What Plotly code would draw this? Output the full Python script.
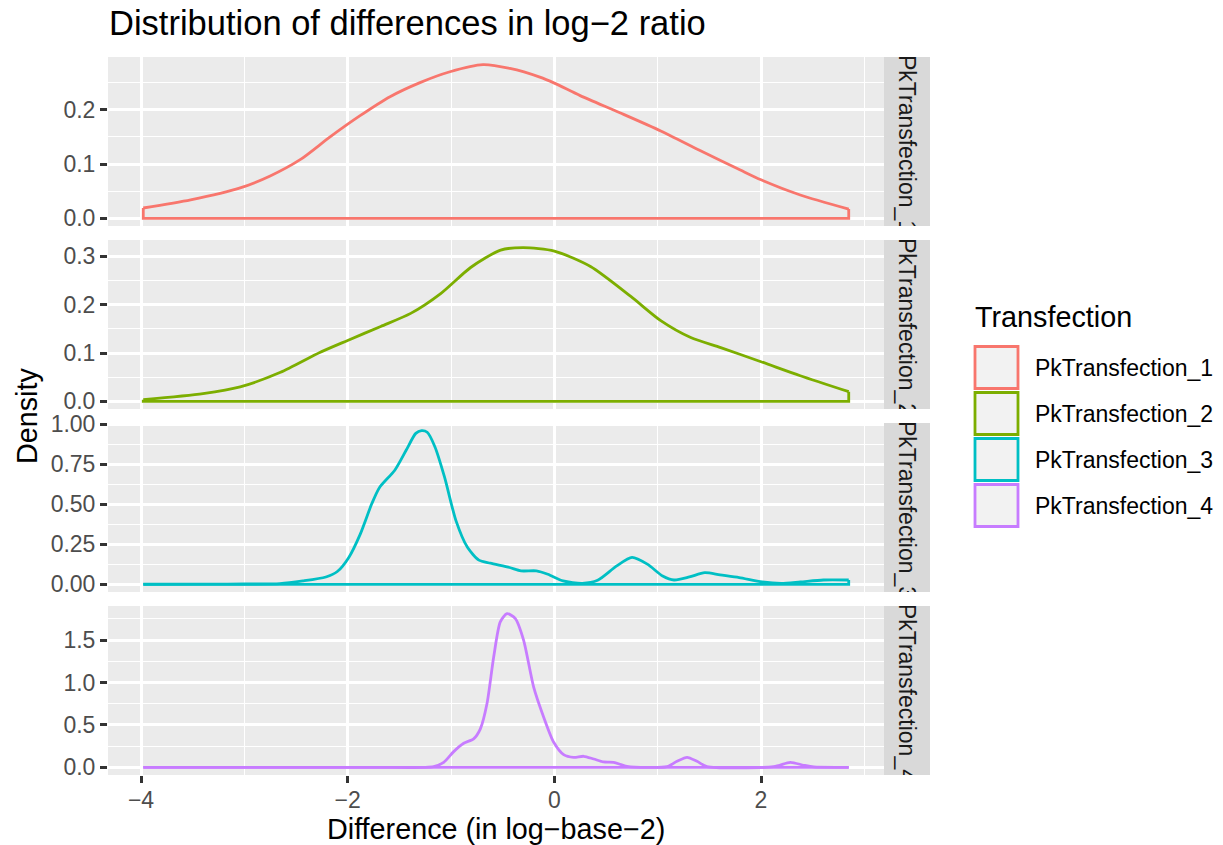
import plotly.graph_objects as go

# ---------------- data ----------------
names = ["PkTransfection_1", "PkTransfection_2", "PkTransfection_3", "PkTransfection_4"]
colors = ["#F8766D", "#7CAE00", "#00BFC4", "#C77CFF"]

x_pk1 = [-3.978, -3.52, -3.04, -2.75, -2.46, -2.17, -1.88, -1.59, -1.30, -1.01, -0.69,
         -0.43, -0.14, 0.0, 0.25, 0.64, 1.03, 1.41, 1.80, 2.0, 2.38, 2.849]
y_pk1 = [0.019, 0.034, 0.056, 0.078, 0.108, 0.150, 0.189, 0.224, 0.250, 0.270, 0.283,
         0.276, 0.260, 0.249, 0.226, 0.194, 0.161, 0.125, 0.089, 0.071, 0.043, 0.017]

x_pk2 = [-3.978, -3.40, -3.04, -2.65, -2.27, -2.0, -1.68, -1.39, -1.10, -0.81, -0.52,
         -0.30, 0.0, 0.35, 0.74, 1.03, 1.32, 1.61, 2.0, 2.38, 2.849]
y_pk2 = [0.0035, 0.016, 0.030, 0.060, 0.101, 0.126, 0.155, 0.182, 0.223, 0.277, 0.313,
         0.318, 0.311, 0.279, 0.217, 0.167, 0.132, 0.111, 0.082, 0.053, 0.020]

x_pk3 = [-3.978, -3.3, -3.0, -2.656, -2.433, -2.211, -2.100, -1.989, -1.878, -1.767, -1.693,
         -1.544, -1.433, -1.341, -1.285, -1.230, -1.156, -1.063, -0.952, -0.841, -0.730,
         -0.619, -0.433, -0.322, -0.174, -0.063, 0.085, 0.270, 0.419, 0.604, 0.752, 0.900,
         1.048, 1.159, 1.307, 1.456, 1.604, 1.789, 2.011, 2.196, 2.381, 2.604, 2.849]
y_pk3 = [0.0005, 0.001, 0.002, 0.004, 0.021, 0.046, 0.080, 0.168, 0.314, 0.503, 0.604,
         0.713, 0.839, 0.943, 0.960, 0.950, 0.860, 0.671, 0.398, 0.231, 0.151,
         0.132, 0.105, 0.084, 0.084, 0.063, 0.021, 0.006, 0.025, 0.115, 0.168, 0.126,
         0.052, 0.027, 0.046, 0.073, 0.059, 0.042, 0.015, 0.006, 0.015, 0.027, 0.027]

x_pk4 = [-3.978, -2.0, -1.68, -1.168, -1.071, -0.974, -0.877, -0.781, -0.716, -0.652, -0.587,
         -0.523, -0.458, -0.377, -0.297, -0.200, -0.103, -0.006, 0.090, 0.187, 0.284, 0.381,
         0.477, 0.574, 0.703, 1.090, 1.187, 1.284, 1.381, 1.477, 2.123, 2.284, 2.413, 2.510,
         2.849]
y_pk4 = [0.0, 0.0, 0.0, 0.008, 0.059, 0.185, 0.283, 0.335, 0.453, 0.748, 1.299,
         1.713, 1.810, 1.752, 1.496, 0.945, 0.591, 0.295, 0.150, 0.118, 0.130, 0.098,
         0.063, 0.059, 0.012, 0.008, 0.071, 0.118, 0.071, 0.008, 0.008, 0.059, 0.024, 0.004,
         0.0]

xs = [x_pk1, x_pk2, x_pk3, x_pk4]
ys = [y_pk1, y_pk2, y_pk3, y_pk4]

x_tick_vals = [-4, -2, 0, 2]
x_tick_text = ["\u22124", "\u22122", "0", "2"]
x_minor_vals = [-5, -3, -1, 1, 3]
y_tick_vals = [[0, 0.1, 0.2], [0, 0.1, 0.2, 0.3], [0, 0.25, 0.5, 0.75, 1.0], [0, 0.5, 1.0, 1.5]]
y_tick_text = [["0.0", "0.1", "0.2"], ["0.0", "0.1", "0.2", "0.3"],
               ["0.00", "0.25", "0.50", "0.75", "1.00"], ["0.0", "0.5", "1.0", "1.5"]]
y_minor_vals = [[0.05, 0.15, 0.25], [0.05, 0.15, 0.25],
                [0.125, 0.375, 0.625, 0.875], [0.25, 0.75, 1.25, 1.75]]

title_text = "Distribution of differences in log\u22122 ratio"
x_title = "Difference (in log\u2212base\u22122)"
y_title = "Density"
legend_title = "Transfection"

# ---------------- layout geometry (pixels) ----------------
W, H = 1223, 845
L, R, T, B = 108, 930, 57, 775
PANEL_RIGHT = 884
panel_tops = [57, 240, 423, 606]
PANEL_H = 169
FONT = "Liberation Sans, Arial, Helvetica, sans-serif"
LW = 2.8


def fx(p):
    return (p - L) / (R - L)


def fy(p):
    return (B - p) / (B - T)


fig = go.Figure()

xmin = min(min(x) for x in xs)
xmax = max(max(x) for x in xs)
span = xmax - xmin
xr = [xmin - 0.05 * span, xmax + 0.05 * span]

layout = {}
for i in range(4):
    n = i + 1
    xa = "x" if n == 1 else f"x{n}"
    ya = "y" if n == 1 else f"y{n}"
    xk = "xaxis" if n == 1 else f"xaxis{n}"
    yk = "yaxis" if n == 1 else f"yaxis{n}"
    # density curve
    fig.add_trace(go.Scatter(
        x=xs[i], y=ys[i], mode="lines",
        line=dict(color=colors[i], width=LW, shape="spline", smoothing=0.7),
        xaxis=xa, yaxis=ya, showlegend=False, hoverinfo="skip"))
    # closing outline (ends + baseline)
    fig.add_trace(go.Scatter(
        x=[xs[i][-1], xs[i][-1], xs[i][0], xs[i][0]],
        y=[ys[i][-1], 0, 0, ys[i][0]], mode="lines",
        line=dict(color=colors[i], width=LW),
        xaxis=xa, yaxis=ya, showlegend=False, hoverinfo="skip"))

    ymax = max(ys[i])
    yr = [-0.05 * ymax, 1.05 * ymax]
    top = panel_tops[i]
    bot = top + PANEL_H
    dom_y = [fy(bot), fy(top)]
    bottom_panel = (n == 4)
    layout[xk] = dict(
        domain=[0, fx(PANEL_RIGHT)], range=xr, anchor=ya,
        tickmode="array", tickvals=x_tick_vals, ticktext=x_tick_text,
        showticklabels=bottom_panel, ticks="outside" if bottom_panel else "",
        ticklen=7, tickwidth=LW, tickcolor="#333333",
        tickfont=dict(size=23, color="#4D4D4D", family=FONT),
        showgrid=True, gridcolor="white", gridwidth=LW,
        minor=dict(tickvals=x_minor_vals, showgrid=True, gridcolor="white",
                   gridwidth=1.4, ticks=""),
        zeroline=False, showline=False, fixedrange=True)
    layout[yk] = dict(
        domain=dom_y, range=yr, anchor=xa,
        tickmode="array", tickvals=y_tick_vals[i], ticktext=y_tick_text[i],
        ticks="outside", ticklen=7, tickwidth=LW, tickcolor="#333333",
        tickfont=dict(size=23, color="#4D4D4D", family=FONT),
        showgrid=True, gridcolor="white", gridwidth=LW,
        minor=dict(tickvals=y_minor_vals[i], showgrid=True, gridcolor="white",
                   gridwidth=1.4, ticks=""),
        zeroline=False, showline=False, fixedrange=True)

    # strip subplot (grey bar filling the strip; its text is clipped to the strip)
    sn = n + 4
    layout[f"xaxis{sn}"] = dict(domain=[fx(PANEL_RIGHT), 1], range=[0, 1], visible=False,
                                anchor=f"y{sn}", fixedrange=True)
    layout[f"yaxis{sn}"] = dict(domain=dom_y, range=[0, 1], visible=False,
                                anchor=f"x{sn}", fixedrange=True)
    fig.add_trace(go.Bar(
        x=[0.5], y=[1.03], base=[-0.03], width=[1],
        marker=dict(color="#D9D9D9", line=dict(width=0)),
        text=[names[i]], textposition="inside", insidetextanchor="middle",
        textangle=90, constraintext="none", cliponaxis=True,
        textfont=dict(size=23, color="#1A1A1A", family=FONT),
        xaxis=f"x{sn}", yaxis=f"y{sn}", showlegend=False, hoverinfo="skip"))

annotations = [
    dict(text=title_text, x=fx(107), y=fy(23), xref="paper", yref="paper",
         xanchor="left", yanchor="middle", showarrow=False,
         font=dict(size=34.5, color="black", family=FONT)),
    dict(text=x_title, x=fx(496), y=fy(829), xref="paper", yref="paper",
         xanchor="center", yanchor="middle", showarrow=False,
         font=dict(size=28.75, color="black", family=FONT)),
    dict(text=y_title, x=fx(27), y=fy(416), xref="paper", yref="paper",
         xanchor="center", yanchor="middle", showarrow=False, textangle=-90,
         font=dict(size=28.75, color="black", family=FONT)),
    dict(text=legend_title, x=fx(973), y=fy(317), xref="paper", yref="paper",
         xanchor="left", yanchor="middle", showarrow=False,
         font=dict(size=28.75, color="black", family=FONT)),
]
shapes = []
key_centers = [367.5, 413.5, 459.5, 505.5]
for i in range(4):
    c = key_centers[i]
    shapes.append(dict(type="rect", xref="paper", yref="paper",
                       x0=fx(975), x1=fx(1018), y0=fy(c + 21), y1=fy(c - 21),
                       fillcolor="#F2F2F2", line=dict(color=colors[i], width=LW)))
    annotations.append(dict(text=names[i], x=fx(1033), y=fy(c), xref="paper", yref="paper",
                            xanchor="left", yanchor="middle", showarrow=False,
                            font=dict(size=23, color="black", family=FONT)))

fig.update_layout(
    width=W, height=H,
    margin=dict(l=L, r=W - R, t=T, b=H - B, pad=0),
    paper_bgcolor="white", plot_bgcolor="#EBEBEB",
    showlegend=False, bargap=0,
    font=dict(family=FONT, color="black"),
    annotations=annotations, shapes=shapes,
    **layout)

try:
    fig.update_layout(xaxis4=dict(ticklabelstandoff=-3))
except Exception:
    pass

fig.write_html("out.html")
